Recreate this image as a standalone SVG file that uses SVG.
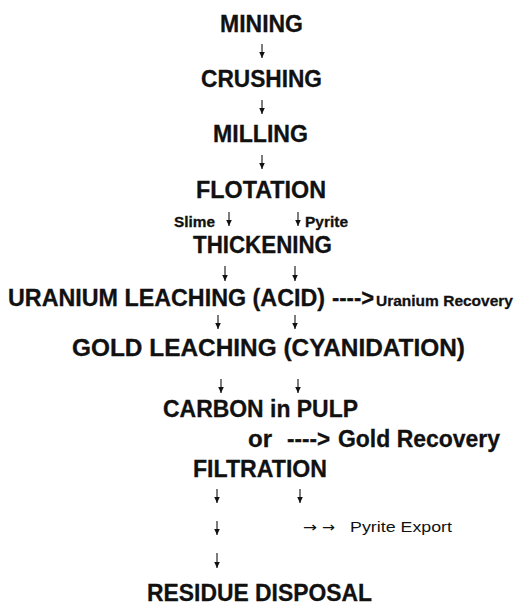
<svg xmlns="http://www.w3.org/2000/svg" width="515" height="605" viewBox="0 0 515 605">
<defs>
<marker id="dn" markerUnits="userSpaceOnUse" markerWidth="6" markerHeight="6" refX="3" refY="6" viewBox="0 0 6 6">
<path d="M0.2,0 L3,6 L5.8,0 Z" fill="#111"/>
</marker>
<style>
.b{font-family:"Liberation Sans",Arial,sans-serif;font-weight:bold;fill:#111;stroke:#111;stroke-width:0.3}
.r{font-family:"Liberation Sans",Arial,sans-serif;fill:#111}
.ar{font-family:"DejaVu Sans",sans-serif;font-size:14px;fill:#111}
.L{font-size:23px}
.S{font-size:15px}
.c line{stroke:#111;stroke-width:1.1;marker-end:url(#dn)}
</style>
</defs>
<rect width="515" height="605" fill="#fff"/>
<g id="mining"><text class="b L" x="220" y="32" textLength="83" lengthAdjust="spacingAndGlyphs">MINING</text></g>
<g id="crushing"><text class="b L" x="201" y="87" textLength="121" lengthAdjust="spacingAndGlyphs">CRUSHING</text></g>
<g id="milling"><text class="b L" x="213" y="142" textLength="95" lengthAdjust="spacingAndGlyphs">MILLING</text></g>
<g id="flotation"><text class="b L" x="196" y="198" textLength="130" lengthAdjust="spacingAndGlyphs">FLOTATION</text></g>
<g id="slime"><text class="b S" x="174" y="227" textLength="41" lengthAdjust="spacingAndGlyphs">Slime</text></g>
<g id="pyrite"><text class="b S" x="305" y="227" textLength="43" lengthAdjust="spacingAndGlyphs">Pyrite</text></g>
<g id="thickening"><text class="b L" x="193" y="253" textLength="139" lengthAdjust="spacingAndGlyphs">THICKENING</text></g>
<g id="uranium-leaching"><text class="b L" x="8" y="306" textLength="317" lengthAdjust="spacingAndGlyphs">URANIUM LEACHING (ACID)</text></g>
<g id="uranium-recovery"><text class="b L" x="332" y="306" textLength="42" lengthAdjust="spacingAndGlyphs">----&gt;</text><text class="b" x="376" y="306" font-size="15.5" textLength="137" lengthAdjust="spacingAndGlyphs">Uranium Recovery</text></g>
<g id="gold-leaching"><text class="b L" x="72" y="356" textLength="393" lengthAdjust="spacingAndGlyphs">GOLD LEACHING (CYANIDATION)</text></g>
<g id="carbon-in-pulp"><text class="b L" x="163" y="417" textLength="195" lengthAdjust="spacingAndGlyphs">CARBON in PULP</text></g>
<g id="or"><text class="b L" x="248" y="447" textLength="24" lengthAdjust="spacingAndGlyphs">or</text></g>
<g id="gold-recovery"><text class="b L" x="287" y="447" textLength="43" lengthAdjust="spacingAndGlyphs">----&gt;</text><text class="b L" x="338" y="447" textLength="162" lengthAdjust="spacingAndGlyphs">Gold Recovery</text></g>
<g id="filtration"><text class="b L" x="193" y="477" textLength="134" lengthAdjust="spacingAndGlyphs">FILTRATION</text></g>
<g id="pyrite-export"><text class="ar" x="303" y="532" textLength="14" lengthAdjust="spacingAndGlyphs">→</text><text class="ar" x="322" y="532" textLength="13" lengthAdjust="spacingAndGlyphs">→</text><text class="r" x="350" y="532" font-size="15" textLength="102" lengthAdjust="spacingAndGlyphs">Pyrite Export</text></g>
<g id="residue-disposal"><text class="b L" x="147" y="601" textLength="225" lengthAdjust="spacingAndGlyphs">RESIDUE DISPOSAL</text></g>
<g id="connectors" class="c">
<line x1="262" y1="44" x2="262" y2="58"/>
<line x1="262" y1="100" x2="262" y2="114"/>
<line x1="262" y1="155" x2="262" y2="169"/>
<line x1="229" y1="212" x2="229" y2="226"/>
<line x1="298" y1="212" x2="298" y2="226"/>
<line x1="225" y1="266" x2="225" y2="281"/>
<line x1="295" y1="266" x2="295" y2="281"/>
<line x1="218" y1="315" x2="218" y2="329"/>
<line x1="295" y1="315" x2="295" y2="329"/>
<line x1="221" y1="379" x2="221" y2="393"/>
<line x1="298" y1="379" x2="298" y2="393"/>
<line x1="217" y1="489" x2="217" y2="503"/>
<line x1="300" y1="489" x2="300" y2="503"/>
<line x1="217" y1="521" x2="217" y2="535"/>
<line x1="217" y1="553" x2="217" y2="568"/>
</g>
</svg>
